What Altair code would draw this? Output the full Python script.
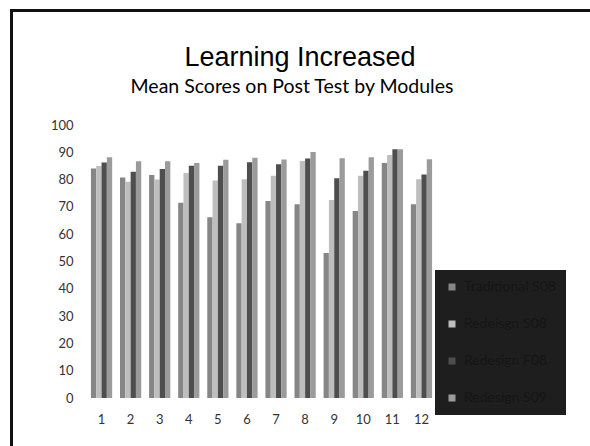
import altair as alt
import pandas as pd

modules = [str(i) for i in range(1, 13)]
series = ["Traditional S08", "Redeisgn S08", "Redesign F08", "Redesign S09"]
traditional_s08 = [84.1, 80.8, 81.7, 71.5, 66.2, 64.0, 72.2, 71.0, 53.1, 68.5, 86.1, 71.0]
redesign_s08 = [85.0, 79.2, 80.0, 82.4, 79.7, 80.1, 81.4, 86.8, 72.5, 81.4, 89.0, 80.1]
redesign_f08 = [86.3, 82.9, 83.9, 85.1, 85.1, 86.4, 85.6, 87.7, 80.5, 83.2, 91.1, 81.9]
redesign_s09 = [88.2, 86.7, 86.7, 86.1, 87.3, 88.0, 87.4, 90.1, 87.8, 88.2, 91.1, 87.5]
colors = ["#868686", "#bebebe", "#4e4e4e", "#9b9b9b"]
y_ticks = list(range(0, 101, 10))
title_text = "Learning Increased"
subtitle_text = "Mean Scores on Post Test by Modules"

rows = []
for s, vals in zip(series, [traditional_s08, redesign_s08, redesign_f08, redesign_s09]):
    for m, v in zip(modules, vals):
        rows.append({"Module": m, "Series": s, "Score": v})
df = pd.DataFrame(rows)

W, H = 349, 273
PL, PT = 87, 125

bars = alt.Chart(df).mark_bar().encode(
    x=alt.X("Module:N", sort=modules,
            scale=alt.Scale(paddingInner=0.27, paddingOuter=0.135),
            axis=alt.Axis(title=None, labelAngle=0, ticks=False, domain=False,
                          labelPadding=15, labelFont="Lato", labelFontSize=13,
                          labelColor="#333333", grid=False)),
    xOffset=alt.XOffset("Series:N", sort=series, scale=alt.Scale(paddingInner=0.0)),
    y=alt.Y("Score:Q", scale=alt.Scale(domain=[0, 100], nice=False),
            axis=alt.Axis(title=None, values=y_ticks, ticks=False, domain=False,
                          grid=False, labelPadding=14, labelFont="Lato",
                          labelFontSize=13, labelColor="#333333")),
    color=alt.Color("Series:N", sort=series,
                    scale=alt.Scale(domain=series, range=colors),
                    legend=alt.Legend(title=None, orient="none", legendX=348, legendY=145,
                                      fillColor="#1e1e1e", padding=10, symbolType="square",
                                      symbolSize=49, symbolStrokeWidth=0,
                                      labelColor="#151515", labelFont="Lato",
                                      labelFontSize=14, labelOffset=5, rowPadding=23)),
)

one = pd.DataFrame({"a": [1]})
frame = alt.Chart(one).mark_rect(fill=None, stroke="#111111", strokeWidth=3).encode(
    x=alt.value(-PL + 11.5), y=alt.value(-PT + 10.5),
    x2=alt.value(W + 200), y2=alt.value(H + 100),
)
title = alt.Chart(one).mark_text(font="Liberation Sans", fontSize=27, color="#000000",
                                 baseline="alphabetic", align="center").encode(
    x=alt.value(300 - PL), y=alt.value(66 - PT), text=alt.value(title_text))
subtitle = alt.Chart(one).mark_text(font="Lato", fontSize=19.5, color="#000000",
                                    baseline="alphabetic", align="center").encode(
    x=alt.value(292 - PL), y=alt.value(93 - PT), text=alt.value(subtitle_text))

chart = alt.layer(frame, bars, title, subtitle).properties(
    width=W, height=H,
    padding={"left": PL, "top": PT, "right": 590 - PL - W, "bottom": 446 - PT - H},
    autosize=alt.AutoSizeParams(type="none"),
    background="white",
).configure_view(stroke=None)

chart.save("out.html", embed_options={"renderer": "svg", "actions": False})
